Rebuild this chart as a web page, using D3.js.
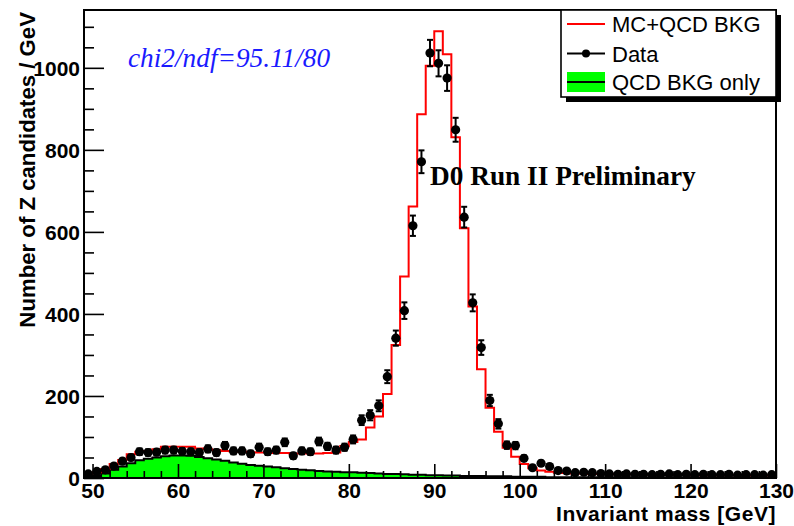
<!DOCTYPE html>
<html>
<head>
<meta charset="utf-8">
<script src="https://cdn.jsdelivr.net/npm/d3@7"></script>
<style>
  html, body { margin: 0; padding: 0; background: #ffffff; }
  svg { display: block; }
  .tick text { font-family: "Liberation Sans", Arial, sans-serif; font-weight: bold; font-size: 21px; fill: #000; }
</style>
</head>
<body>
<svg id="chart" width="794" height="526"></svg>
<script>
// Lower edges of the 1 GeV invariant-mass bins
const binEdges = [
  49, 50, 51, 52, 53, 54, 55, 56, 57, 58,
  59, 60, 61, 62, 63, 64, 65, 66, 67, 68,
  69, 70, 71, 72, 73, 74, 75, 76, 77, 78,
  79, 80, 81, 82, 83, 84, 85, 86, 87, 88,
  89, 90, 91, 92, 93, 94, 95, 96, 97, 98,
  99, 100, 101, 102, 103, 104, 105, 106, 107, 108,
  109, 110, 111, 112, 113, 114, 115, 116, 117, 118,
  119, 120, 121, 122, 123, 124, 125, 126, 127, 128,
  129
];
const binWidth = 1;

// Observed Z candidates per bin
const dataCounts = [
  10, 16, 20, 29, 41, 50, 64, 62, 63, 68,
  68, 65, 64, 62, 71, 62, 79, 66, 66, 59,
  75, 64, 68, 87, 54, 66, 64, 89, 77, 68,
  75, 94, 141, 153, 176, 247, 341, 408, 615, 771,
  1036, 1011, 975, 849, 636, 427, 318, 189, 132, 80,
  79, 48, 25, 36, 28, 18, 17, 13, 14, 13,
  11, 10, 9, 10, 9, 9, 8, 9, 10, 8,
  9, 8, 9, 8, 8, 9, 7, 8, 8, 7,
  8
];

// Simulation (MC signal + QCD background) expectation per bin
const mcPlusQcd = [
  10, 14, 22, 34, 44, 58, 64, 66, 70, 76,
  76, 76, 76, 72, 70, 68, 66, 65, 64, 63,
  62, 62, 61, 61, 60, 60, 60, 60, 61, 62,
  78, 88, 94, 123, 150, 205, 324, 491, 662, 887,
  1005, 1089, 1033, 831, 609, 418, 265, 171, 113, 74,
  52, 34, 24, 18, 15, 13, 12, 11, 11, 10,
  10, 10, 9, 9, 9, 9, 8, 8, 8, 8,
  8, 7, 7, 7, 7, 7, 7, 7, 6, 6,
  6
];

// QCD background alone per bin
const qcdOnly = [
  3, 5, 11, 20, 28, 36, 43, 47, 50, 53,
  55, 55, 54, 51, 48, 45, 42, 38, 35, 32,
  30, 28, 26, 24, 22, 20, 19, 17, 16, 15,
  14, 14, 13, 12, 11, 10, 10, 9, 8, 8,
  7, 7, 6, 6, 5, 5, 5, 4, 4, 4,
  3, 3, 3, 3, 2, 2, 2, 2, 2, 2,
  2, 2, 2, 2, 1, 1, 1, 1, 1, 1,
  1, 1, 1, 1, 1, 1, 1, 1, 1, 1,
  1
];

// Axis ticks and labels
const xMajorTicks = [50, 60, 70, 80, 90, 100, 110, 120, 130];
const xMinorTicks = [52, 54, 56, 58, 62, 64, 66, 68, 72, 74, 76, 78, 82, 84, 86, 88,
                     92, 94, 96, 98, 102, 104, 106, 108, 112, 114, 116, 118, 122, 124, 126, 128];
const yMajorTicks = [0, 200, 400, 600, 800, 1000];
const yMinorTicks = [50, 100, 150, 250, 300, 350, 450, 500, 550, 650, 700, 750, 850, 900, 950, 1050, 1100];

const xTitle = "Invariant mass [GeV]";
const yTitle = "Number of Z candidates / GeV";
const fitText = "chi2/ndf=95.11/80";
const labelText = "D0 Run II Preliminary";
const legendLabels = ["MC+QCD BKG", "Data", "QCD BKG only"];

// ---- drawing ----
const svg = d3.select("#chart");
const frame = { left: 84, right: 776, top: 10, bottom: 478 };

const x = d3.scaleLinear().domain([49, 130]).range([frame.left, frame.right]);
const y = d3.scaleLinear().domain([0, 1141]).range([frame.bottom, frame.top]);

const plot = svg.append("g");
svg.append("clipPath").attr("id", "plotClip")
  .append("rect")
  .attr("x", frame.left).attr("y", frame.top)
  .attr("width", frame.right - frame.left).attr("height", frame.bottom - frame.top);
plot.attr("clip-path", "url(#plotClip)");

// step outline points for a binned series
function stepPoints(values) {
  const pts = [];
  values.forEach((v, i) => {
    pts.push([binEdges[i], v]);
    pts.push([binEdges[i] + binWidth, v]);
  });
  return pts;
}

// QCD background: filled green histogram with black outline
const qcdPts = stepPoints(qcdOnly);
plot.append("path")
  .datum(qcdPts)
  .attr("fill", "#00ff00")
  .attr("d", d3.area().x(d => x(d[0])).y0(y(0)).y1(d => y(d[1])));
plot.append("path")
  .datum(qcdPts)
  .attr("fill", "none")
  .attr("stroke", "#000")
  .attr("stroke-width", 2)
  .attr("d", d3.line().x(d => x(d[0])).y(d => y(d[1])));

// MC + QCD expectation: red step histogram
plot.append("path")
  .datum(stepPoints(mcPlusQcd))
  .attr("fill", "none")
  .attr("stroke", "#ff0000")
  .attr("stroke-width", 2)
  .attr("d", d3.line().x(d => x(d[0])).y(d => y(d[1])));

// Data points with Poisson error bars
const dataPts = dataCounts.map((c, i) => ({ m: binEdges[i] + binWidth / 2, n: c, e: Math.sqrt(c) }));
const errG = plot.append("g").attr("stroke", "#000").attr("stroke-width", 2);
dataPts.forEach(d => {
  const cx = x(d.m), yHi = y(d.n + d.e), yLo = y(d.n - d.e);
  errG.append("line").attr("x1", cx).attr("x2", cx).attr("y1", yHi).attr("y2", yLo);
  errG.append("line").attr("x1", cx - 3).attr("x2", cx + 3).attr("y1", yHi).attr("y2", yHi);
  errG.append("line").attr("x1", cx - 3).attr("x2", cx + 3).attr("y1", yLo).attr("y2", yLo);
});
plot.append("g").selectAll("circle")
  .data(dataPts)
  .join("circle")
  .attr("cx", d => x(d.m))
  .attr("cy", d => y(d.n))
  .attr("r", 4.6)
  .attr("fill", "#000");

// Axes: ticks point into the frame
function styleAxis(g) {
  g.select(".domain").remove();
  g.selectAll(".tick line").attr("stroke", "#000").attr("stroke-width", 1.6);
}
svg.append("g")
  .attr("transform", `translate(${frame.left},0)`)
  .call(d3.axisLeft(y).tickValues(yMinorTicks).tickSize(-10).tickFormat(""))
  .call(styleAxis);
svg.append("g")
  .attr("transform", `translate(${frame.left},0)`)
  .call(d3.axisLeft(y).tickValues(yMajorTicks).tickSize(-20).tickPadding(4).tickFormat(d3.format("d")))
  .call(styleAxis)
  .selectAll("text").attr("dy", "0.36em");
svg.append("g")
  .attr("transform", `translate(0,${frame.bottom})`)
  .call(d3.axisBottom(x).tickValues(xMinorTicks).tickSize(-7).tickFormat(""))
  .call(styleAxis);
svg.append("g")
  .attr("transform", `translate(0,${frame.bottom})`)
  .call(d3.axisBottom(x).tickValues(xMajorTicks).tickSize(-14).tickPadding(5).tickFormat(d3.format("d")))
  .call(styleAxis);

// Frame
svg.append("rect")
  .attr("x", frame.left).attr("y", frame.top)
  .attr("width", frame.right - frame.left).attr("height", frame.bottom - frame.top)
  .attr("fill", "none").attr("stroke", "#000").attr("stroke-width", 2);

// Axis titles
svg.append("text")
  .attr("transform", `translate(35,${frame.top + 2}) rotate(-90)`)
  .attr("text-anchor", "end")
  .style("font-family", "'Liberation Sans', Arial, sans-serif")
  .style("font-weight", "bold").style("font-size", "22.2px")
  .text(yTitle);
svg.append("text")
  .attr("x", frame.right).attr("y", 521.3)
  .attr("text-anchor", "end")
  .style("font-family", "'Liberation Sans', Arial, sans-serif")
  .style("font-weight", "bold").style("font-size", "21px")
  .style("letter-spacing", "0.55px")
  .text(xTitle);

// Fit quality and experiment label
svg.append("text")
  .attr("x", 128).attr("y", 67)
  .style("font-family", "'Liberation Serif', 'Times New Roman', serif")
  .style("font-style", "italic").style("font-size", "27.3px")
  .attr("fill", "#1a1aff")
  .text(fitText);
svg.append("text")
  .attr("x", 430).attr("y", 185)
  .style("font-family", "'Liberation Serif', 'Times New Roman', serif")
  .style("font-weight", "bold").style("font-size", "27.3px")
  .attr("fill", "#000")
  .text(labelText);

// Legend with drop shadow
const lg = svg.append("g");
const lgBox = { x: 561, y: 10, w: 215, h: 87 };
lg.append("rect").attr("x", lgBox.x + 5).attr("y", lgBox.y + 5)
  .attr("width", lgBox.w).attr("height", lgBox.h).attr("fill", "#000");
lg.append("rect").attr("x", lgBox.x).attr("y", lgBox.y)
  .attr("width", lgBox.w).attr("height", lgBox.h)
  .attr("fill", "#fff").attr("stroke", "#000").attr("stroke-width", 1.6);

const rowY = [24, 53.5, 82];
lg.append("line").attr("x1", 567).attr("x2", 605).attr("y1", rowY[0]).attr("y2", rowY[0])
  .attr("stroke", "#ff0000").attr("stroke-width", 2);
lg.append("line").attr("x1", 567).attr("x2", 605).attr("y1", rowY[1]).attr("y2", rowY[1])
  .attr("stroke", "#000").attr("stroke-width", 2);
lg.append("circle").attr("cx", 586).attr("cy", rowY[1]).attr("r", 4).attr("fill", "#000");
lg.append("rect").attr("x", 567).attr("y", 72).attr("width", 38).attr("height", 20).attr("fill", "#00ff00");
lg.append("line").attr("x1", 567).attr("x2", 605).attr("y1", rowY[2]).attr("y2", rowY[2])
  .attr("stroke", "#000").attr("stroke-width", 2);

lg.selectAll("text.lbl")
  .data(legendLabels)
  .join("text")
  .attr("class", "lbl")
  .attr("x", 612)
  .attr("y", (d, i) => rowY[i] + 8)
  .style("font-family", "'Liberation Sans', Arial, sans-serif")
  .style("font-size", "22px")
  .attr("fill", "#000")
  .text(d => d);
</script>
</body>
</html>
